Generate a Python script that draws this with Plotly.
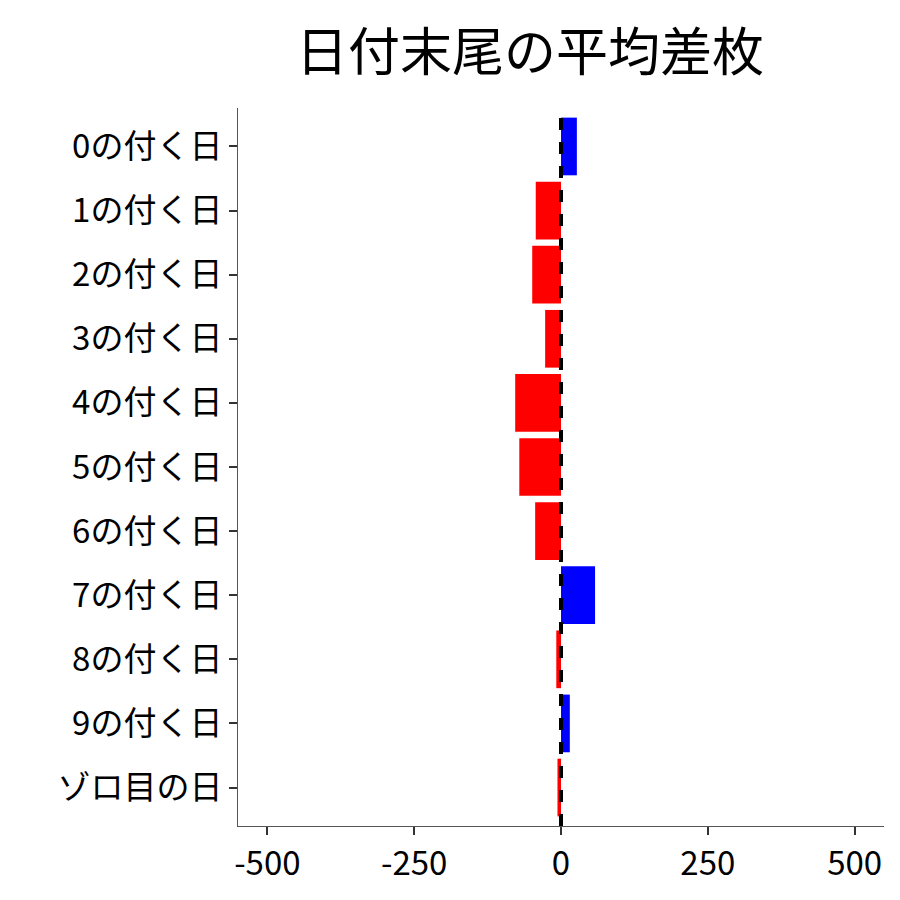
import plotly.graph_objects as go

categories = ["0の付く日", "1の付く日", "2の付く日", "3の付く日", "4の付く日",
              "5の付く日", "6の付く日", "7の付く日", "8の付く日", "9の付く日",
              "ゾロ目の日"]
values = [27, -43, -49, -27, -78, -71, -44, 58, -8, 15, -6]
tick_vals = [-500, -250, 0, 250, 500]
tick_text = ["-500", "-250", "0", "250", "500"]
colors = ["blue" if v > 0 else "red" for v in values]

fig = go.Figure(go.Bar(x=values, y=categories, orientation="h",
                       marker=dict(color=colors, line=dict(width=0)),
                       width=0.9))
fig.add_shape(type="line", x0=0, x1=0, xref="x", y0=0, y1=1, yref="paper",
              line=dict(color="black", width=4, dash="dash"))
fig.update_layout(
    width=900, height=900,
    font=dict(family="Noto Sans CJK JP", size=33, color="black"),
    title=dict(text="日付末尾の平均差枚", x=0.58, xanchor="center",
               y=0.95, yanchor="middle", font=dict(size=52)),
    plot_bgcolor="white", paper_bgcolor="white",
    margin=dict(l=230, r=24, t=100, b=82, autoexpand=False),
    showlegend=False,
)
fig.update_xaxes(range=[-550, 550], tickvals=tick_vals, ticktext=tick_text,
                 showgrid=False, zeroline=False, showline=True,
                 linecolor="#555", ticks="outside", ticklen=8,
                 tickcolor="#333", tickwidth=2, automargin=False)
fig.update_yaxes(autorange=False, range=[10.6, -0.6], showgrid=False,
                 showline=True, linecolor="#555", ticks="outside",
                 ticklen=8, tickcolor="#333", tickwidth=2, automargin=False)
fig.write_html("out.html")
